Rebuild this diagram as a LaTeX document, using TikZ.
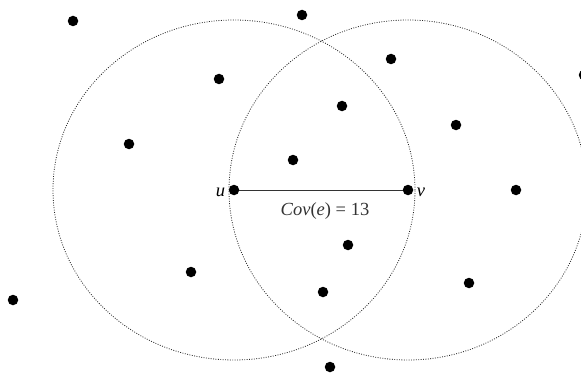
\documentclass[tikz,border=0pt]{standalone}
\usepackage{fontspec}
\setmainfont{Liberation Serif}
\tikzset{
  dot/.style={circle,fill=black,inner sep=0pt,minimum size=10.5pt},
  ring/.style={dash pattern=on 0.9pt off 1.5pt,line width=0.8pt,black!85},
  edge/.style={line width=0.9pt,black!80},
  tag/.style={label distance=0pt,yshift=-2pt}
}

\begin{document}
\begin{tikzpicture}[x=1pt,y=1pt,font=\fontsize{18.5}{22}\selectfont]
  \useasboundingbox (0,0) rectangle (581,373);
  \node[dot,label={[tag]left:\textit{u}}] (u) at (234,183) {};
  \node[dot,label={[tag]right:\textit{v}}] (v) at (408,183) {};
  \draw[ring] (u) ellipse [x radius=181,y radius=170];
  \draw[ring] (v) ellipse [x radius=179,y radius=170];
  \draw[edge] (u) -- node[below=9pt,xshift=4pt] {\textit{Cov}(\textit{e}) = 13} (v);

  \node[dot] (p1) at (73,352) {};
  \node[dot] (p2) at (302,358) {};
  \node[dot] (p3) at (219,294) {};
  \node[dot] (p4) at (391,314) {};
  \node[dot] (p5) at (584,298) {};
  \node[dot] (p6) at (342,267) {};
  \node[dot] (p7) at (129,229) {};
  \node[dot] (p8) at (456,248) {};
  \node[dot] (p9) at (293,213) {};
  \node[dot] (p10) at (516,183) {};
  \node[dot] (p11) at (348,128) {};
  \node[dot] (p12) at (191,101) {};
  \node[dot] (p13) at (323,81) {};
  \node[dot] (p14) at (469,90) {};
  \node[dot] (p15) at (13,73) {};
  \node[dot] (p16) at (330,6) {};
\end{tikzpicture}
\end{document}
